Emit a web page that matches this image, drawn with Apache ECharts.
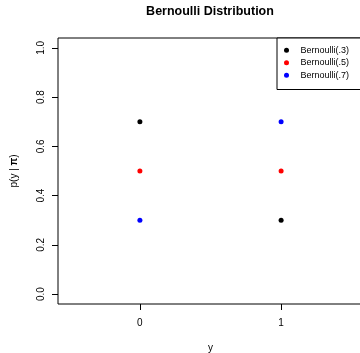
<!DOCTYPE html>
<html>
<head>
<meta charset="utf-8">
<script src="https://cdn.jsdelivr.net/npm/echarts@6/dist/echarts.min.js"></script>
<style>
html,body{margin:0;padding:0;background:#fff;}
#c{width:360px;height:353px;}
</style>
</head>
<body>
<div id="c"></div>
<script>
var xValues = [0, 1];
var seriesNames = ['Bernoulli(.3)', 'Bernoulli(.5)', 'Bernoulli(.7)'];
var p3 = [0.7, 0.3];
var p5 = [0.5, 0.5];
var p7 = [0.3, 0.7];
var colors = ['#000000', '#ff0000', '#0000ff'];
var xTicks = [0, 1];
var yTicks = [0, 0.2, 0.4, 0.6, 0.8, 1.0];

var FONT = 'Liberation Sans, Arial, Helvetica, sans-serif';
function pts(vals) { return xValues.map(function (x, i) { return [x, vals[i]]; }); }
var allVals = [p3, p5, p7];

var chart = echarts.init(document.getElementById('c'), null, {renderer: 'canvas'});
chart.setOption({
  animation: false,
  backgroundColor: '#ffffff',
  title: {
    text: 'Bernoulli Distribution',
    left: 210, top: 5, padding: 0,
    textAlign: 'center',
    textStyle: {fontFamily: FONT, fontWeight: 'bold', fontSize: 12.5, color: '#000'}
  },
  legend: {
    data: seriesNames,
    orient: 'vertical',
    left: 277, top: 38,
    padding: [6, 60, 8, 7],
    itemWidth: 18, itemHeight: 5, itemGap: 0,
    icon: 'circle',
    borderColor: '#000', borderWidth: 1, borderRadius: 0,
    backgroundColor: '#fff',
    textStyle: {fontFamily: FONT, fontSize: 9, color: '#000', lineHeight: 12.5}
  },
  grid: {
    left: 58, top: 38, right: -3, bottom: 49,
    show: true, borderColor: '#000', borderWidth: 1, backgroundColor: 'transparent',
    containLabel: false,
    outerBoundsMode: 'none'
  },
  xAxis: {
    type: 'value', min: -0.58, max: 1.58,
    name: 'y', nameLocation: 'middle', nameGap: 39,
    nameTextStyle: {fontFamily: FONT, fontSize: 10, color: '#000'},
    axisLine: {show: false, onZero: false},
    axisTick: {show: true, length: 6, customValues: xTicks, lineStyle: {color: '#000'}},
    axisLabel: {customValues: xTicks, margin: 14, fontFamily: FONT, fontSize: 10, color: '#000',
      formatter: function (v) { return String(v); }},
    splitLine: {show: false}
  },
  yAxis: {
    type: 'value', min: -0.04, max: 1.04,
    name: 'p(y | {b|π})', nameLocation: 'middle', nameGap: 39, nameRotate: 90,
    nameTextStyle: {fontFamily: FONT, fontSize: 10, color: '#000',
      rich: {b: {fontFamily: FONT, fontSize: 10, fontWeight: 'bold', color: '#000'}}},
    axisLine: {show: false, onZero: false},
    axisTick: {show: true, length: 6, customValues: yTicks, lineStyle: {color: '#000'}},
    axisLabel: {customValues: yTicks, rotate: 90, margin: 12, fontFamily: FONT, fontSize: 10, color: '#000',
      formatter: function (v) { return v.toFixed(1); }},
    splitLine: {show: false}
  },
  series: seriesNames.map(function (n, i) {
    return {
      name: n, type: 'scatter', data: pts(allVals[i]),
      symbol: 'circle', symbolSize: 5,
      itemStyle: {color: colors[i], opacity: 1}
    };
  })
});
</script>
</body>
</html>
